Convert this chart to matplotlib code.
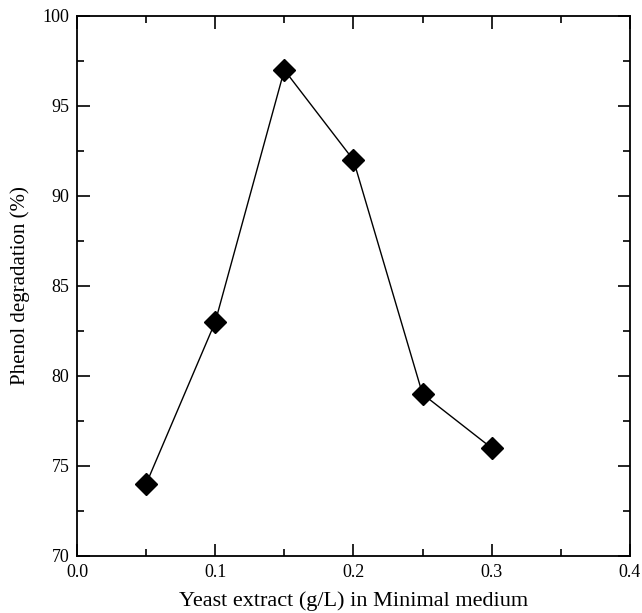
import matplotlib
matplotlib.use('Agg')
import matplotlib.pyplot as plt
from matplotlib.ticker import MultipleLocator

# yeast extract concentration (g/L) and degradation (%)
yeast = [0.05, 0.10, 0.15, 0.20, 0.25, 0.30]
degradation = [74, 83, 97, 92, 79, 76]

plt.rcParams['font.family'] = ['Liberation Serif', 'DejaVu Serif']

fig = plt.figure(figsize=(6.42, 6.13), dpi=100)
ax = fig.add_axes([0.12, 0.093, 0.861, 0.881])

ax.plot(yeast, degradation, color='black', linewidth=1.0,
        marker='D', markersize=11, markerfacecolor='black', markeredgecolor='black')

ax.set_xlim(0.0, 0.4)
ax.set_ylim(70, 100)
ax.xaxis.set_major_locator(MultipleLocator(0.1))
ax.xaxis.set_minor_locator(MultipleLocator(0.05))
ax.yaxis.set_major_locator(MultipleLocator(5))
ax.yaxis.set_minor_locator(MultipleLocator(2.5))
ax.xaxis.set_major_formatter(matplotlib.ticker.FormatStrFormatter('%.1f'))

ax.tick_params(which='both', direction='in', top=True, right=True, width=1.2, labelsize=13)
ax.tick_params(axis='x', which='major', pad=6)
ax.tick_params(axis='y', which='major', pad=5.5)
ax.tick_params(which='major', length=9)
ax.tick_params(which='minor', length=5)
for s in ax.spines.values():
    s.set_linewidth(1.3)

ax.set_xlabel('Yeast extract (g/L) in Minimal medium', fontsize=16, labelpad=7)
ax.set_ylabel('Phenol degradation (%)', fontsize=15, labelpad=9)

fig.savefig('out.png', dpi=100)
